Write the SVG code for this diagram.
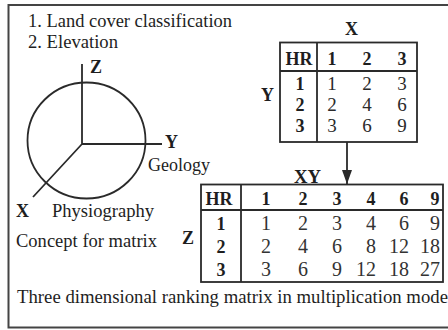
<svg xmlns="http://www.w3.org/2000/svg" width="448" height="330" viewBox="0 0 448 330">
<style>
text{font-family:"Liberation Serif","Times New Roman",serif;fill:#1e1e1e}
.t{font-size:18px}
.b{font-size:18px;font-weight:bold}
.h{font-size:18px;font-weight:bold;text-anchor:middle}
.v{font-size:19px;text-anchor:middle;fill:#2a2a2a}
.w{font-size:20px;text-anchor:end;fill:#333}
.ln{stroke:#2a2a2a;stroke-width:1.8;fill:none}
.fr{stroke:#444;stroke-width:2;fill:none}
</style>
<defs>
<marker id="ah" viewBox="0 0 14 10" refX="14" refY="5" markerWidth="14" markerHeight="10" markerUnits="userSpaceOnUse" orient="auto">
<path d="M0,0 L14,5 L0,10 Z" fill="#2a2a2a"/>
</marker>
</defs>
<rect width="448" height="330" fill="#fff"/>
<g id="frame">
<path class="fr" d="M448,5 H8.5 V327.5 H448"/>
</g>
<g id="legend">
<text class="t" x="28" y="27" textLength="204" lengthAdjust="spacingAndGlyphs">1. Land cover classification</text>
<text class="t" x="28" y="48" textLength="90" lengthAdjust="spacingAndGlyphs">2. Elevation</text>
</g>
<g id="concept">
<ellipse class="ln" cx="86.5" cy="140.5" rx="59" ry="58"/>
<path class="ln" d="M82,64 V144 H162 M82,144 L33,197"/>
<text class="b" x="90" y="73">Z</text>
<text class="b" x="165" y="148">Y</text>
<text class="t" x="148" y="171" textLength="62" lengthAdjust="spacingAndGlyphs">Geology</text>
<text class="b" x="16" y="217">X</text>
<text class="t" x="52" y="217" textLength="102" lengthAdjust="spacingAndGlyphs">Physiography</text>
<text class="t" x="16" y="247" textLength="141" lengthAdjust="spacingAndGlyphs">Concept for matrix</text>
</g>
<g id="matrix-xy">
<text class="b" x="345" y="35">X</text>
<text class="b" x="261" y="101">Y</text>
<rect class="ln" x="280" y="42.5" width="137" height="99.5"/>
<path class="ln" d="M317,42.5 V142 M280,71 H417"/>
<text class="h" x="299" y="65">HR</text>
<text class="h" x="332" y="65">1</text>
<text class="h" x="367" y="65">2</text>
<text class="h" x="402" y="65">3</text>
<text class="h" x="300" y="90">1</text>
<text class="h" x="300" y="111">2</text>
<text class="h" x="300" y="132">3</text>
<text class="v" x="332" y="90">1</text><text class="v" x="367" y="90">2</text><text class="v" x="402" y="90">3</text>
<text class="v" x="332" y="111">2</text><text class="v" x="367" y="111">4</text><text class="v" x="402" y="111">6</text>
<text class="v" x="332" y="132">3</text><text class="v" x="367" y="132">6</text><text class="v" x="402" y="132">9</text>
</g>
<g id="connectors">
<path class="ln" d="M347,142 V184" marker-end="url(#ah)"/>
</g>
<g id="matrix-xyz">
<text class="b" x="294" y="183" textLength="27" lengthAdjust="spacingAndGlyphs">XY</text>
<text class="b" x="182" y="244">Z</text>
<rect class="ln" x="201" y="184.5" width="242" height="97.5"/>
<path class="ln" d="M241,184.5 V282 M201,210 H443"/>
<text class="h" x="219" y="205">HR</text>
<text class="h" x="266" y="205">1</text>
<text class="h" x="303" y="205">2</text>
<text class="h" x="337" y="205">3</text>
<text class="h" x="371" y="205">4</text>
<text class="h" x="404" y="205">6</text>
<text class="h" x="435" y="205">9</text>
<text class="h" x="221" y="230">1</text>
<text class="h" x="221" y="253">2</text>
<text class="h" x="221" y="276">3</text>
<text class="w" x="271" y="230">1</text><text class="w" x="308" y="230">2</text><text class="w" x="342" y="230">3</text><text class="w" x="376" y="230">4</text><text class="w" x="409" y="230">6</text><text class="w" x="440" y="230">9</text>
<text class="w" x="271" y="253">2</text><text class="w" x="308" y="253">4</text><text class="w" x="342" y="253">6</text><text class="w" x="376" y="253">8</text><text class="w" x="409" y="253">12</text><text class="w" x="440" y="253">18</text>
<text class="w" x="271" y="276">3</text><text class="w" x="308" y="276">6</text><text class="w" x="342" y="276">9</text><text class="w" x="376" y="276">12</text><text class="w" x="409" y="276">18</text><text class="w" x="440" y="276">27</text>
</g>
<g id="caption">
<text class="t" x="17" y="303" textLength="431" lengthAdjust="spacingAndGlyphs">Three dimensional ranking matrix in multiplication mode</text>
</g>
</svg>
